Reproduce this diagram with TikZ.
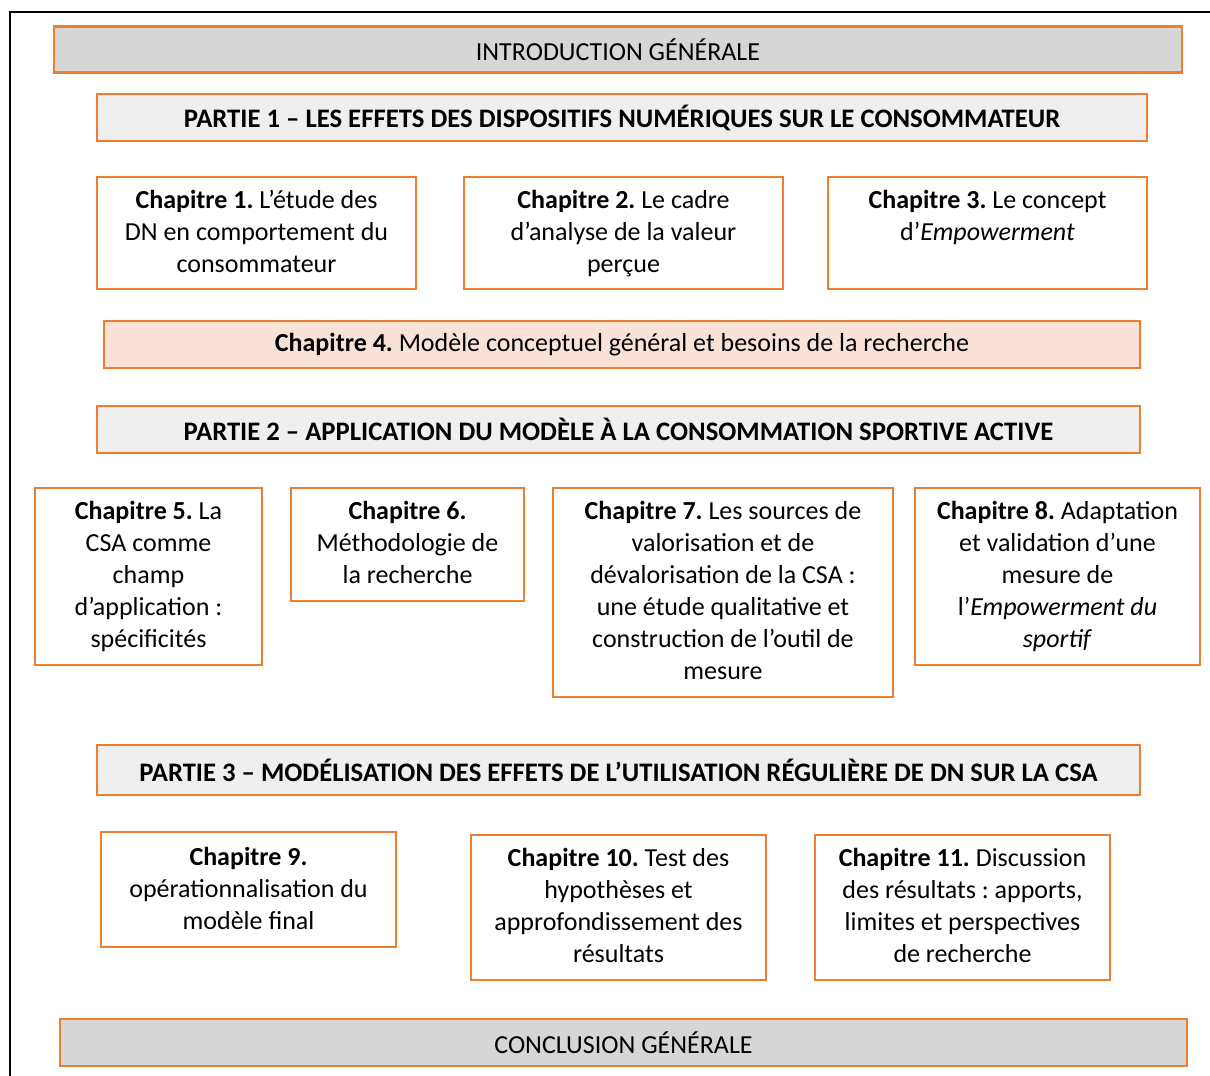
\documentclass[tikz,border=0pt]{standalone}
\usepackage{fontspec}
\setmainfont{Carlito}
\usetikzlibrary{positioning}
\definecolor{boxorange}{HTML}{ED7D31}
\definecolor{introgrey}{HTML}{D6D6D6}
\definecolor{partgrey}{HTML}{EFEFEF}
\definecolor{chapeach}{HTML}{FAE2D7}
\newcommand\boxfont{\fontsize{26pt}{32pt}\selectfont}
\newcommand\partfont{\fontsize{26.7pt}{32pt}\selectfont\bfseries}
\frenchspacing
\begin{document}
\begin{tikzpicture}[x=1pt,y=-1pt,font=\boxfont,
    frame/.style={line width=2pt},
    bar/.style={draw=boxorange,line width=2.5pt,inner sep=0pt},
    chap/.style={draw=boxorange,line width=2.5pt,inner sep=0pt,outer sep=0pt,anchor=north west},
    chaptext/.style={align=center,inner sep=0pt,anchor=north}]
      \useasboundingbox (0,0) rectangle (1210,1076);
      \draw[frame] (10,1090) -- (10,12) -- (1220,12);
      % bands
      \node[bar,fill=introgrey,minimum width=1128pt,minimum height=46pt] (intro) at (618,49.5) {INTRODUCTION GÉNÉRALE};
      \node[bar,fill=partgrey,minimum width=1050pt,minimum height=47pt,font=\partfont] (p1) at (622,117.5)
        {PARTIE 1 – LES EFFETS DES DISPOSITIFS NUMÉRIQUES SUR LE CONSOMMATEUR};
      \node[bar,fill=chapeach,minimum width=1036pt,minimum height=47pt] (ch4) at (622,344.5)
        {\textbf{Chapitre 4.} Modèle conceptuel général et besoins de la recherche};
      \node[bar,fill=partgrey,minimum width=1043pt,minimum height=47pt,font=\partfont] (p2) at (618.5,429.5)
        {PARTIE 2 – APPLICATION DU MODÈLE À LA CONSOMMATION SPORTIVE ACTIVE};
      \node[bar,fill=partgrey,minimum width=1043pt,minimum height=50pt,font=\partfont] (p3) at (618.5,770)
        {PARTIE 3 – MODÉLISATION DES EFFETS DE L’UTILISATION RÉGULIÈRE DE DN SUR LA CSA};
      \node[bar,fill=introgrey,minimum width=1127pt,minimum height=47pt] (concl) at (623.5,1042.5) {CONCLUSION GÉNÉRALE};
      % chapter boxes
      \node[chap,minimum width=319pt,minimum height=112pt] (ch1) at (97,177) {};
      \node[chap,minimum width=319pt,minimum height=112pt] (ch2) at (464,177) {};
      \node[chap,minimum width=319pt,minimum height=112pt] (ch3) at (828,177) {};
      \node[chap,minimum width=227pt,minimum height=177pt] (ch5) at (35,488) {};
      \node[chap,minimum width=233pt,minimum height=113pt] (ch6) at (291,488) {};
      \node[chap,minimum width=340pt,minimum height=209pt] (ch7) at (553,488) {};
      \node[chap,minimum width=285pt,minimum height=177pt] (ch8) at (915,488) {};
      \node[chap,minimum width=295pt,minimum height=115pt] (ch9) at (101,832) {};
      \node[chap,minimum width=295pt,minimum height=145pt] (ch10) at (471,835) {};
      \node[chap,minimum width=295pt,minimum height=145pt] (ch11) at (815,835) {};
      % chapter texts
      \begin{scope}[node distance=13pt]
        \node[chaptext,below=of ch1.north] (ch1t)
          {\textbf{Chapitre 1.} L’étude des\\DN en comportement du\\consommateur};
        \node[chaptext,below=of ch2.north] (ch2t)
          {\textbf{Chapitre 2.} Le cadre\\d’analyse de la valeur\\perçue};
        \node[chaptext,below=of ch3.north] (ch3t)
          {\textbf{Chapitre 3.} Le concept\\d’\textit{Empowerment}};
        \node[chaptext,below=of ch5.north] (ch5t)
          {\textbf{Chapitre 5.} La\\CSA comme\\champ\\d’application :\\spécificités};
        \node[chaptext,below=of ch6.north] (ch6t)
          {\textbf{Chapitre 6.}\\Méthodologie de\\la recherche};
        \node[chaptext,below=of ch7.north] (ch7t)
          {\textbf{Chapitre 7.} Les sources de\\valorisation et de\\dévalorisation de la CSA :\\une étude qualitative et\\construction de l’outil de\\mesure};
        \node[chaptext,below=of ch8.north] (ch8t)
          {\textbf{Chapitre 8.} Adaptation\\et validation d’une\\mesure de\\l’\textit{Empowerment du}\\\textit{sportif}};
        \node[chaptext,below=of ch9.north,yshift=-2pt] (ch9t)
          {\textbf{Chapitre 9.}\\opérationnalisation du\\modèle final};
        \node[chaptext,below=of ch10.north] (ch10t)
          {\textbf{Chapitre 10.} Test des\\hypothèses et\\approfondissement des\\résultats};
        \node[chaptext,below=of ch11.north] (ch11t)
          {\textbf{Chapitre 11.} Discussion\\des résultats : apports,\\limites et perspectives\\de recherche};
      \end{scope}
    \end{tikzpicture}
\end{document}
